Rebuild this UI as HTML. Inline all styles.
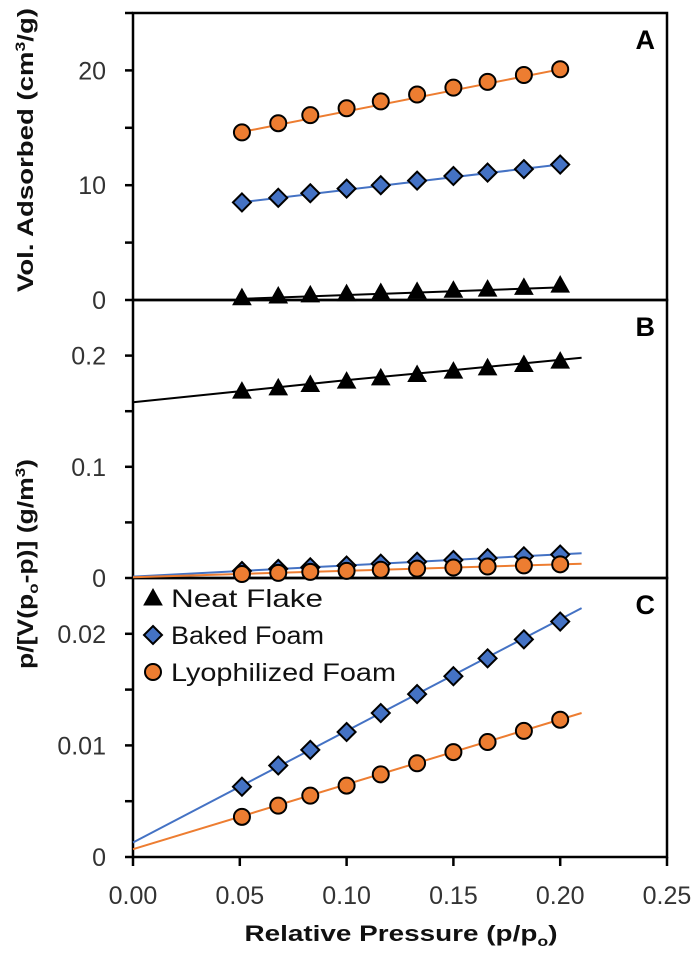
<!DOCTYPE html>
<html><head><meta charset="utf-8"><style>
html,body{margin:0;padding:0;background:#fff;}
svg{display:block;font-family:"Liberation Sans","DejaVu Sans",sans-serif;}
</style></head><body>
<svg id="chart" width="700" height="966" viewBox="0 0 700 966" xmlns="http://www.w3.org/2000/svg"></svg>
<script>
const pressures = [0.051,0.068,0.083,0.1,0.116,0.133,0.15,0.166,0.183,0.2];
const volNeat  = [0.2,0.35,0.45,0.55,0.65,0.75,0.85,0.95,1.1,1.3];
const volBaked = [8.5,8.9,9.3,9.7,10.0,10.4,10.8,11.1,11.4,11.8];
const volLyo   = [14.6,15.4,16.1,16.7,17.3,17.9,18.5,19.0,19.6,20.1];
const betNeat  = [0.168,0.171,0.174,0.177,0.180,0.183,0.186,0.189,0.192,0.195];
const betBaked = [0.0063,0.0082,0.0096,0.0112,0.0129,0.0146,0.0162,0.0178,0.0195,0.0211];
const betLyo   = [0.0036,0.0046,0.0055,0.0064,0.0074,0.0084,0.0094,0.0103,0.0113,0.0123];
const fitNeatA = [[0.05,0.1],[0.2,1.1]];
const fitBakedA = [[0.05,8.5],[0.2,11.8]];
const fitLyoA = [[0.05,14.6],[0.2,20.1]];
const fitNeatB = [[0,0.158],[0.05,0.168],[0.1,0.178],[0.15,0.187],[0.21,0.198]];
const fitBakedC = [[0,0.0013],[0.21,0.0223]];
const fitLyoC = [[0,0.0007],[0.21,0.0129]];
const xTicks = ["0.00","0.05","0.10","0.15","0.20","0.25"];
const aTicks = ["0","10","20"];
const bTicks = ["0","0.1","0.2"];
const cTicks = ["0","0.01","0.02"];

const NS="http://www.w3.org/2000/svg";
const svg=document.getElementById('chart');
function el(tag,attrs,parent){const e=document.createElementNS(NS,tag);for(const k in attrs)e.setAttribute(k,attrs[k]);(parent||svg).appendChild(e);return e;}
const X0=133,X1=667;
const xs=v=>X0+v/0.25*(X1-X0);
const panels={
 A:{top:13,bot:300,max:25,ticks:aTicks,minor:[5,15,25]},
 B:{top:300,bot:578,max:0.25,ticks:bTicks,minor:[0.05,0.15]},
 C:{top:578,bot:857,max:0.025,ticks:cTicks,minor:[0.005,0.015]}
};
function ys(p,v){const P=panels[p];return P.bot-v/P.max*(P.bot-P.top);}
const ORANGE="#ED7D31",BLUE="#4472C4";

for(const p of ["A","B","C"]){
  const P=panels[p];
  const r=el('rect',{x:X0,y:P.top,width:X1-X0,height:P.bot-P.top,fill:'none',stroke:'#000','stroke-width':2.5});
  
  
  P.ticks.forEach(t=>{
    const y=ys(p,parseFloat(t));
    const tk=el('line',{x1:X0-8,x2:X0,y1:y,y2:y,stroke:'#000','stroke-width':2.5});
    
    
    const tx=el('text',{x:106,y:y+9,'text-anchor':'end','font-size':25,fill:'#333'});
    tx.textContent=t;
    
    
  });
  P.minor.forEach(t=>{
    const y=ys(p,t);
    const tk=el('line',{x1:X0-8,x2:X0,y1:y,y2:y,stroke:'#000','stroke-width':2.5});
    
    
  });
  const lt=el('text',{x:655,y:P.top+36,'text-anchor':'end','font-size':27,'font-weight':'bold',fill:'#000'});
  lt.textContent=p;
  
  
}
xTicks.forEach(t=>{
  const x=xs(parseFloat(t));
  const tk=el('line',{x1:x,x2:x,y1:857,y2:866,stroke:'#000','stroke-width':2.5});
  
  
  const tx=el('text',{x:x,y:904,'text-anchor':'middle','font-size':25,fill:'#333'});
  tx.textContent=t;
  
  
});

function line(p,pts,color,name){
  const d=pts.map((q,i)=>(i?'L':'M')+xs(q[0]).toFixed(1)+' '+ys(p,q[1]).toFixed(1)).join(' ');
  const e=el('path',{d:d,fill:'none',stroke:color,'stroke-width':2});
  
  
}
function marker(type,cx,cy,name){
  let e;
  if(type==='circle') e=el('circle',{cx:cx,cy:cy,r:8,fill:ORANGE,stroke:'#000','stroke-width':2});
  else if(type==='diamond') e=el('path',{d:`M${cx} ${cy-9}L${cx+9} ${cy}L${cx} ${cy+9}L${cx-9} ${cy}Z`,fill:BLUE,stroke:'#000','stroke-width':2});
  else e=el('path',{d:`M${cx} ${cy-9}L${cx+9} ${cy+7}L${cx-9} ${cy+7}Z`,fill:'#000',stroke:'#000','stroke-width':1});
  
  
}
function series(p,vals,type,name){pressures.forEach((x,i)=>marker(type,xs(x),ys(p,vals[i]),name));}

line('A',fitLyoA,ORANGE,'fit-line-lyophilized-a');
line('A',fitBakedA,BLUE,'fit-line-baked-a');
line('A',fitNeatA,'#000','fit-line-neat-a');
series('A',volLyo,'circle','point-lyophilized-a');
series('A',volBaked,'diamond','point-baked-a');
series('A',volNeat,'triangle','point-neat-a');
line('B',fitNeatB,'#000','fit-line-neat-b');
line('B',fitBakedC,BLUE,'fit-line-baked-b');
line('B',fitLyoC,ORANGE,'fit-line-lyophilized-b');
series('B',betNeat,'triangle','point-neat-b');
series('B',betBaked,'diamond','point-baked-b');
series('B',betLyo,'circle','point-lyophilized-b');
line('C',fitBakedC,BLUE,'fit-line-baked-c');
line('C',fitLyoC,ORANGE,'fit-line-lyophilized-c');
series('C',betBaked,'diamond','point-baked-c');
series('C',betLyo,'circle','point-lyophilized-c');

const legend=[['triangle','Neat Flake',598,152],['diamond','Baked Foam',635,153],['circle','Lyophilized Foam',672,225]];
legend.forEach(l=>{
  marker(l[0],153,l[2],'legend-marker');
  const t=el('text',{x:171,y:l[2]+9,'font-size':25,fill:'#111',textLength:l[3],lengthAdjust:'spacingAndGlyphs'});
  t.textContent=l[1];
  
  
});
</script>
<div style="position:absolute;left:0;top:0;width:700px;height:966px;pointer-events:none;">
<svg width="700" height="966" style="position:absolute;left:0;top:0;font-family:'Liberation Sans','DejaVu Sans',sans-serif;">
<text transform="translate(33,150) rotate(-90)" text-anchor="middle" font-size="22" font-weight="bold" fill="#111" textLength="284" lengthAdjust="spacingAndGlyphs">Vol. Adsorbed (cm<tspan dy="-8" font-size="14">3</tspan><tspan dy="8">/g)</tspan></text>
<text transform="translate(33,564) rotate(-90)" text-anchor="middle" font-size="22" font-weight="bold" fill="#111" textLength="210" lengthAdjust="spacingAndGlyphs">p/[V(p<tspan dy="5" font-size="14">o</tspan><tspan dy="-5">-p)] (g/m</tspan><tspan dy="-8" font-size="14">3</tspan><tspan dy="8">)</tspan></text>
<text x="401" y="941" text-anchor="middle" font-size="22" font-weight="bold" fill="#111" textLength="313" lengthAdjust="spacingAndGlyphs">Relative Pressure (p/p<tspan dy="5" font-size="14">o</tspan><tspan dy="-5">)</tspan></text>
</svg>
</div>
</body></html>
